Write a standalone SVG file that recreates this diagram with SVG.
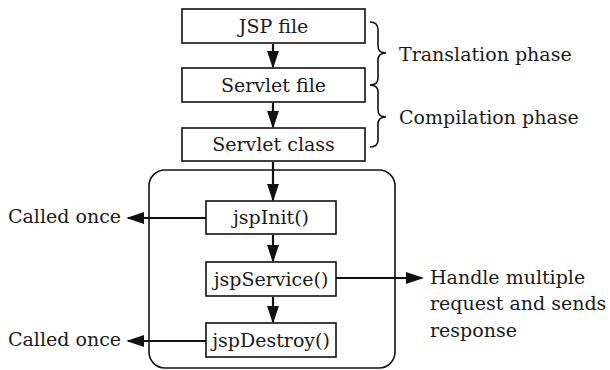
<svg xmlns="http://www.w3.org/2000/svg" width="610" height="370" viewBox="0 0 610 370">
<defs>
<style>
.box{fill:#fff;stroke:#111;stroke-width:1.6}
.t{font-family:"DejaVu Serif","Liberation Serif",serif;font-size:19px;fill:#1a1a1a}
.c{text-anchor:middle}
.ln{stroke:#111;stroke-width:2.2;fill:none}
.br{stroke:#111;stroke-width:1.6;fill:none}
</style>
<marker id="ah" viewBox="0 0 10 10" refX="9" refY="5" markerWidth="18" markerHeight="12" markerUnits="userSpaceOnUse" orient="auto" preserveAspectRatio="none">
<path d="M0,0 L10,5 L0,10 z" fill="#111"/>
</marker>
</defs>
<rect x="149" y="170" width="246" height="198" rx="16" ry="16" fill="none" stroke="#111" stroke-width="1.6"/>
<g id="connectors">
<line class="ln" x1="273" y1="44" x2="273" y2="67" marker-end="url(#ah)"/>
<line class="ln" x1="273" y1="103" x2="273" y2="127" marker-end="url(#ah)"/>
<line class="ln" x1="273" y1="162" x2="273" y2="200" marker-end="url(#ah)"/>
<line class="ln" x1="273" y1="235" x2="273" y2="261" marker-end="url(#ah)"/>
<line class="ln" x1="273" y1="297" x2="273" y2="322" marker-end="url(#ah)"/>
<line class="ln" x1="206" y1="218" x2="128" y2="218" marker-end="url(#ah)"/>
<line class="ln" x1="206" y1="341" x2="128" y2="341" marker-end="url(#ah)"/>
<line class="ln" x1="336" y1="278" x2="422" y2="278" marker-end="url(#ah)"/>
<path class="br" d="M370,22 Q378,22 378,30 L378,46 Q378,53 386,53 Q378,53 378,60 L378,78 Q378,85 370,85"/>
<path class="br" d="M370,85 Q378,85 378,92 L378,110 Q378,117 386,117 Q378,117 378,124 L378,140 Q378,147 370,147"/>
</g>
<g id="jsp-file"><rect class="box" x="182" y="9" width="183" height="34"/><text class="t c" x="273.5" y="33">JSP file</text></g>
<g id="servlet-file"><rect class="box" x="182" y="68" width="183" height="34"/><text class="t c" x="273.5" y="92">Servlet file</text></g>
<g id="servlet-class"><rect class="box" x="182" y="128" width="183" height="33"/><text class="t c" x="273.5" y="151">Servlet class</text></g>
<g id="jspinit"><rect class="box" x="206" y="201" width="130" height="33"/><text class="t c" x="271" y="224">jspInit()</text></g>
<g id="jspservice"><rect class="box" x="206" y="262" width="130" height="34"/><text class="t c" x="271" y="286">jspService()</text></g>
<g id="jspdestroy"><rect class="box" x="206" y="323" width="130" height="34"/><text class="t c" x="271" y="347">jspDestroy()</text></g>
<g id="translation-label"><text class="t" x="399" y="61">Translation phase</text></g>
<g id="compilation-label"><text class="t" x="399" y="124">Compilation phase</text></g>
<g id="called-once-1"><text class="t" x="8" y="223">Called once</text></g>
<g id="called-once-2"><text class="t" x="8" y="346">Called once</text></g>
<g id="handle-label"><text class="t" x="430" y="284">Handle multiple</text><text class="t" x="430" y="310">request and sends</text><text class="t" x="430" y="337">response</text></g>
</svg>
